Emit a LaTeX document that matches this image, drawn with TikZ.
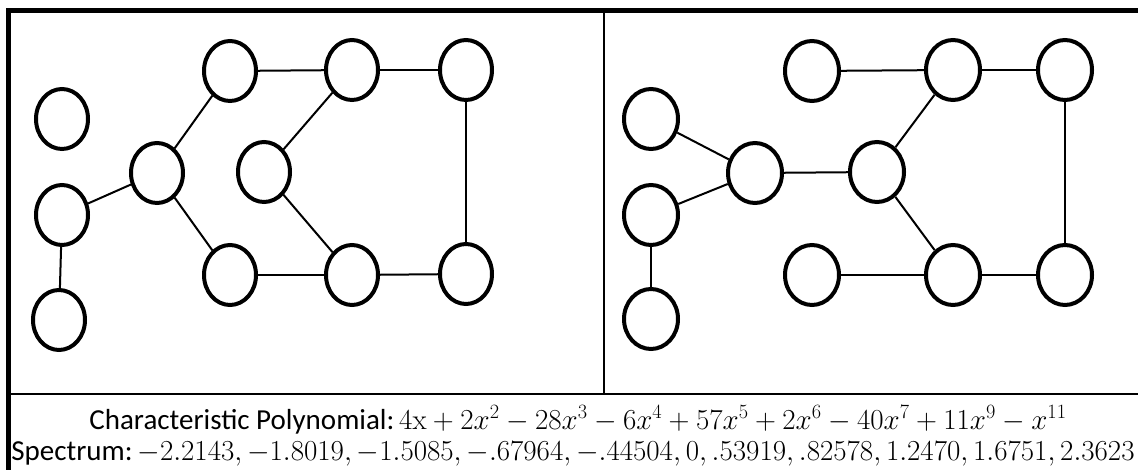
\RequirePackage{fix-cm}
\documentclass[tikz,border=0pt]{standalone}
\usepackage[no-math]{fontspec}
\setmainfont{Carlito}
\usetikzlibrary{shapes.geometric}

\begin{document}
\begin{tikzpicture}[x=1pt, y=-1pt,
            vertex/.style={draw, ellipse, line width=4pt, minimum width=52pt, minimum height=60pt, inner sep=0pt},
            edge/.style={line width=2pt},
            frame/.style={line width=4.5pt},
            divider/.style={line width=2.5pt},
            caption/.style={anchor=base, inner sep=0pt, text height=20pt, text depth=6pt, font=\fontsize{29}{30}\selectfont}]
            \useasboundingbox (0, 0) rectangle (1138, 470);

            \draw [frame] (8.5, 470) to (8.5, 10.5) to (1138, 10.5);
            \draw [divider] (8.5, 394) to (1138, 394);
            \draw [divider] (604, 10.5) to (604, 394);

            \node [vertex] (l1) at (62, 119) {};
            \node [vertex] (l2) at (62, 215) {};
            \node [vertex] (l3) at (59, 320) {};
            \node [vertex] (l4) at (157, 173) {};
            \node [vertex] (l5) at (230, 71) {};
            \node [vertex] (l6) at (230, 275) {};
            \node [vertex] (l7) at (264, 172) {};
            \node [vertex] (l8) at (352, 70) {};
            \node [vertex] (l9) at (352, 275) {};
            \node [vertex] (l10) at (466, 70) {};
            \node [vertex] (l11) at (466, 274) {};

            \draw [edge] (l2) to (l3);
            \draw [edge] (l2) to (l4);
            \draw [edge] (l4) to (l5);
            \draw [edge] (l4) to (l6);
            \draw [edge] (l5) to (l8);
            \draw [edge] (l8) to (l10);
            \draw [edge] (l8) to (l7);
            \draw [edge] (l7) to (l9);
            \draw [edge] (l6) to (l9);
            \draw [edge] (l9) to (l11);
            \draw [edge] (l10) to (l11);

            \node [vertex, minimum width=54pt] (r1) at (651, 119) {};
            \node [vertex, minimum width=54pt] (r2) at (651, 215) {};
            \node [vertex, minimum width=54pt] (r3) at (651, 319) {};
            \node [vertex, minimum width=54pt] (r4) at (755, 173) {};
            \node [vertex, minimum width=54pt] (r5) at (812, 71) {};
            \node [vertex, minimum width=54pt] (r6) at (812, 275) {};
            \node [vertex, minimum width=54pt] (r7) at (877, 172) {};
            \node [vertex, minimum width=54pt] (r8) at (953, 70) {};
            \node [vertex, minimum width=54pt] (r9) at (953, 275) {};
            \node [vertex, minimum width=54pt] (r10) at (1065, 70) {};
            \node [vertex, minimum width=54pt] (r11) at (1065, 275) {};

            \draw [edge] (r1) to (r4);
            \draw [edge] (r2) to (r4);
            \draw [edge] (r2) to (r3);
            \draw [edge] (r4) to (r7);
            \draw [edge] (r7) to (r8);
            \draw [edge] (r7) to (r9);
            \draw [edge] (r5) to (r8);
            \draw [edge] (r8) to (r10);
            \draw [edge] (r6) to (r9);
            \draw [edge] (r9) to (r11);
            \draw [edge] (r10) to (r11);

            \node [caption] (poly) at (578, 429) {Characteristic Polynomial:\,$4\mathrm{x}+2x^2-28x^3-6x^4+57x^5+2x^6-40x^7+11x^9-x^{11}$};
            \node [caption] (spec) at (573, 460) {Spectrum:\,$-2.2143,-1.8019,-1.5085,-.67964,-.44504,0,.53919,.82578,1.2470,1.6751,2.3623$};
\end{tikzpicture}
\end{document}
